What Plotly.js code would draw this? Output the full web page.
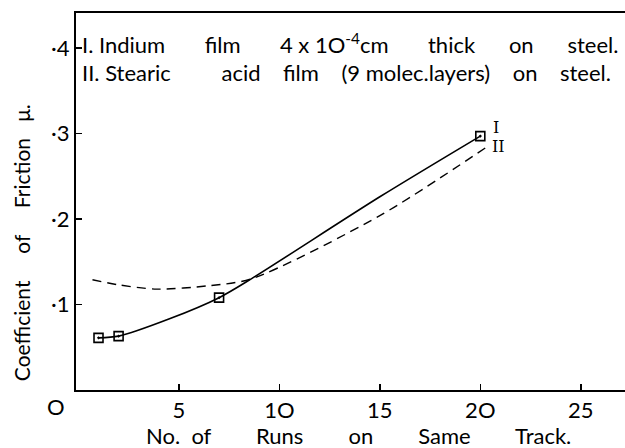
<!DOCTYPE html>
<html>
<head>
<meta charset="utf-8">
<script src="https://cdn.plot.ly/plotly-3.0.1.min.js"></script>
<style>html,body{margin:0;padding:0;background:#fff;}#chart{width:625px;height:448px;}</style>
</head>
<body>
<div id="chart"></div>
<script>
// Curve I: Indium film 4x10^-4 cm thick on steel (measured points)
const runsI = [1, 2, 7, 20];
const muI = [0.061, 0.063, 0.108, 0.297];
// Curve I: smooth line
const lineRunsI = [1, 2, 4.5, 7, 8.6, 15, 20];
const lineMuI = [0.061, 0.063, 0.083, 0.108, 0.130, 0.226, 0.297];
// Curve II: Stearic acid film (9 molecular layers) on steel (dashed curve)
const runsII = [0.7, 2, 3.9, 6.5, 8.6, 15, 20.3];
const muII = [0.129, 0.123, 0.118, 0.122, 0.130, 0.204, 0.284];

const xTickVals = [5, 10, 15, 20, 25];
const xTickText = ['5', '1O', '15', '2O', '25'];
const yTickVals = [0.1, 0.2, 0.3, 0.4];
const yTickText = ['·1', '·2', '·3', '·4'];

const FONT = 'Lato, "Open Sans", sans-serif';
const SP = n => '\u00a0'.repeat(n);

const traces = [
  {x: lineRunsI, y: lineMuI, mode: 'lines', line: {color: '#000', width: 1.6, shape: 'spline', smoothing: 0.8}, hoverinfo: 'skip', showlegend: false},
  {x: runsI, y: muI, mode: 'markers', marker: {symbol: 'square-open-dot', size: 9, color: '#000', line: {width: 1.6, color: '#000'}}, showlegend: false},
  {x: runsII, y: muII, mode: 'lines', line: {color: '#000', width: 1.4, dash: '9px,6px', shape: 'spline', smoothing: 0.8}, showlegend: false}
];

const layout = {
  width: 625, height: 448,
  margin: {l: 76, r: 0, t: 13, b: 58},
  paper_bgcolor: '#fff', plot_bgcolor: '#fff',
  font: {family: FONT, color: '#000', size: 18},
  showlegend: false,
  xaxis: {
    range: [-0.12, 27.2], showgrid: false, zeroline: false,
    showline: true, linecolor: '#000', linewidth: 2, mirror: true,
    ticks: 'inside', ticklen: 6, tickwidth: 1.5, tickcolor: '#000',
    tickvals: xTickVals, ticktext: xTickText,
    tickfont: {family: FONT, size: 22, color: '#000'},
    fixedrange: true
  },
  yaxis: {
    range: [0, 0.441], showgrid: false, zeroline: false,
    showline: true, linecolor: '#000', linewidth: 2, mirror: false,
    ticks: 'inside', ticklen: 6, tickwidth: 1.5, tickcolor: '#000',
    tickvals: yTickVals, ticktext: yTickText,
    tickfont: {family: FONT, size: 22, color: '#000'},
    fixedrange: true
  },
  annotations: [
    {xref: 'paper', yref: 'paper', x: 0.008, y: 0.918, xanchor: 'left', yanchor: 'middle', showarrow: false,
     text: 'I.' + SP(1) + 'Indium' + SP(7) + 'film' + SP(7) + '4 x 1O<sup>-4</sup>cm' + SP(7) + 'thick' + SP(6) + 'on' + SP(6) + 'steel.',
     font: {family: FONT, size: 22, color: '#000'}},
    {xref: 'paper', yref: 'paper', x: 0.008, y: 0.843, xanchor: 'left', yanchor: 'middle', showarrow: false,
     text: 'II.' + SP(1) + 'Stearic' + SP(9) + 'acid' + SP(4) + 'film' + SP(4) + '(9 molec.layers)' + SP(4) + 'on' + SP(4) + 'steel.',
     font: {family: FONT, size: 22, color: '#000'}},
    {xref: 'paper', yref: 'paper', x: -0.098, y: 0.39, xanchor: 'center', yanchor: 'middle', showarrow: false, textangle: -90,
     text: 'Coefficient' + SP(5) + 'of' + SP(5) + 'Friction' + SP(3) + 'μ.', font: {family: FONT, size: 21, color: '#000'}},
    {xref: 'paper', yref: 'paper', x: 0.514, y: -0.122, xanchor: 'center', yanchor: 'middle', showarrow: false,
     text: 'No.' + SP(2) + 'of' + SP(8) + 'Runs' + SP(8) + 'on' + SP(8) + 'Same' + SP(8) + 'Track.', font: {family: FONT, size: 22, color: '#000'}},
    {xref: 'paper', yref: 'paper', x: -0.036, y: -0.045, xanchor: 'center', yanchor: 'middle', showarrow: false,
     text: 'O', font: {family: FONT, size: 22, color: '#000'}},
    {xref: 'x', yref: 'y', x: 20.55, y: 0.307, xanchor: 'left', yanchor: 'middle', showarrow: false,
     text: 'I', font: {family: 'DejaVu Serif, serif', size: 16, color: '#000'}},
    {xref: 'x', yref: 'y', x: 20.5, y: 0.285, xanchor: 'left', yanchor: 'middle', showarrow: false,
     text: 'II', font: {family: 'DejaVu Serif, serif', size: 16, color: '#000'}}
  ]
};

Plotly.newPlot('chart', traces, layout, {staticPlot: true, displayModeBar: false});
</script>
</body>
</html>
